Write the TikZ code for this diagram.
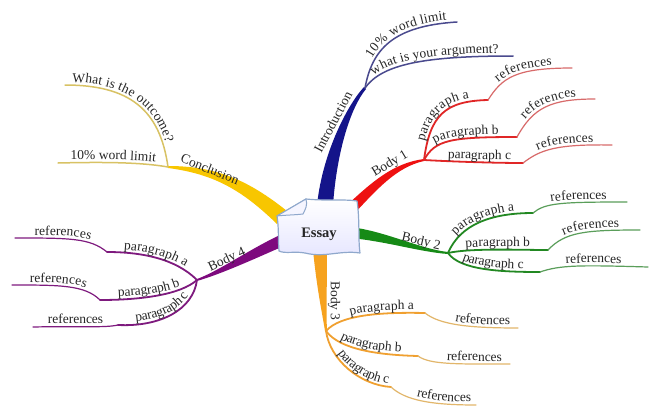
\documentclass[tikz,border=0pt]{standalone}
\usepackage{fontspec}
\setmainfont{Liberation Serif}
\usetikzlibrary{decorations.text}
\definecolor{cBlue}{HTML}{14148A}
\definecolor{cBlueS}{HTML}{4A4A8E}
\definecolor{cRed}{HTML}{EE1111}
\definecolor{cRedS}{HTML}{E02626}
\definecolor{cRedR}{HTML}{D86A6A}
\definecolor{cGreen}{HTML}{168A16}
\definecolor{cGreenS}{HTML}{228822}
\definecolor{cGreenR}{HTML}{5A9E5A}
\definecolor{cOrange}{HTML}{F6A21E}
\definecolor{cOrangeS}{HTML}{F0A030}
\definecolor{cOrangeR}{HTML}{E2B66A}
\definecolor{cPurple}{HTML}{7E0A7E}
\definecolor{cPurpleS}{HTML}{7E1A7E}
\definecolor{cYellow}{HTML}{F8C600}
\definecolor{cYellowS}{HTML}{D8C264}
\definecolor{cPaper}{HTML}{8FA8CC}
\newcommand\lblf{\fontsize{13.5}{15}\selectfont\color{black!85}}
\begin{document}
\begin{tikzpicture}[x=1pt,y=-1pt,
  lbl/.style={font=\fontsize{13.5}{15}\selectfont, text=black!85, inner sep=0pt},
  para/.style={line width=1.8pt, line cap=round},
  refl/.style={line width=1.2pt, line cap=round},
  txt/.style 2 args={postaction={decorate, decoration={text along path, text align={#2}, raise=3pt, text={|\lblf|#1}}}},
  tpath/.style 2 args={decorate, decoration={text along path, text align={#2}, raise=3pt, text={|\lblf|#1}}}]
\useasboundingbox (0,0) rectangle (651,407);
\fill[white] (0,0) rectangle (651,407);

% branch points
\coordinate (bI) at (365,88);
\coordinate (b1) at (424,160);
\coordinate (b2) at (448,253);
\coordinate (b3) at (326,331);
\coordinate (b4) at (197,280);
\coordinate (bC) at (168,167);

% ---- main tapered branches ----
\fill[cBlue] (317,205) .. controls (323,150) and (349,103) .. (364,87) -- (366,89) .. controls (351,107) and (337,150) .. (333,205) -- cycle;
\fill[cRed] (346,206) .. controls (372,182) and (393,163) .. (424,159) -- (424,161) .. controls (397,167) and (378,188) .. (353,215) -- cycle;
\fill[cGreen] (350,227) .. controls (385,231) and (420,249) .. (448,252) -- (448,254) .. controls (420,252) and (385,241) .. (350,238) -- cycle;
\fill[cOrange] (313,250) .. controls (317,290) and (322,312) .. (325,331) -- (327,331) .. controls (326,310) and (327,290) .. (327,250) -- cycle;
\fill[cPurple] (282,234) .. controls (248,250) and (219,271) .. (197,279) -- (197,281) .. controls (221,274) and (252,260) .. (286,245) -- cycle;
\fill[cYellow] (287,211) .. controls (248,180) and (216,166) .. (168,166) -- (168,168) .. controls (214,174) and (242,190) .. (277,224) -- cycle;

% ---- Introduction ----
\coordinate (iA) at (457,22);
\coordinate (iB) at (513,56);
\draw[cBlueS, line width=1.5pt, line cap=round, txt={10{\%} word limit}{right, right indent=10pt}] (bI) .. controls (372,50) and (392,26) .. (iA);
\draw[cBlueS, line width=1.5pt, line cap=round, txt={what is your argument?}{center}] (bI) .. controls (382,64) and (425,56) .. (iB);

% ---- Body 1 ----
\coordinate (r1a) at (488,100);
\coordinate (r1b) at (517,137);
\coordinate (r1c) at (523,163);
\coordinate (e1a) at (572,68);
\coordinate (e1b) at (595,99);
\coordinate (e1c) at (612,145);
\draw[cRedS, para, txt={paragraph a}{center}] (b1) .. controls (430,115) and (445,101) .. (r1a);
\draw[cRedS, para, txt={paragraph b}{center}] (b1) .. controls (435,140) and (450,137) .. (r1b);
\draw[cRedS, para, txt={paragraph c}{right, right indent=12pt}] (b1) .. controls (460,162) and (500,163) .. (r1c);
\draw[cRedR, refl, txt={references}{center}] (r1a) .. controls (502,78) and (515,68) .. (e1a);
\draw[cRedR, refl, txt={references}{center}] (r1b) .. controls (533,108) and (550,99) .. (e1b);
\draw[cRedR, refl, txt={references}{center}] (r1c) .. controls (540,150) and (555,144) .. (e1c);

% ---- Body 2 ----
\coordinate (r2a) at (533,213);
\coordinate (r2b) at (548,250);
\coordinate (r2c) at (540,272);
\coordinate (e2a) at (627,202);
\coordinate (e2b) at (640,230);
\coordinate (e2c) at (648,267);
\draw[cGreenS, para, txt={paragraph a}{center}] (b2) .. controls (460,225) and (490,213) .. (r2a);
\draw[cGreenS, para, txt={paragraph b}{center}] (b2) .. controls (470,248) and (520,250) .. (r2b);
\draw[cGreenS, para, txt={paragraph c}{center}] (b2) .. controls (460,270) and (500,272) .. (r2c);
\draw[cGreenR, refl, txt={references}{center}] (r2a) .. controls (545,203) and (560,202) .. (e2a);
\draw[cGreenR, refl, txt={references}{center}] (r2b) .. controls (565,232) and (585,230) .. (e2b);
\draw[cGreenR, refl, txt={references}{center}] (r2c) .. controls (560,265) and (580,265) .. (e2c);

% ---- Body 3 ----
\coordinate (r3a) at (425,313);
\coordinate (r3b) at (418,356);
\coordinate (r3c) at (391,387);
\coordinate (e3a) at (518,328);
\coordinate (e3b) at (510,364);
\coordinate (e3c) at (476,405);
\draw[cOrangeS, para, txt={paragraph a}{right, right indent=11pt}] (b3) .. controls (340,315) and (380,312) .. (r3a);
\draw[cOrangeS, para, txt={paragraph b}{center}] (b3) .. controls (340,350) and (380,355) .. (r3b);
\draw[cOrangeS, para, txt={paragraph c}{right, right indent=3pt}] (b3) .. controls (330,360) and (360,385) .. (r3c);
\draw[cOrangeR, refl, txt={references}{right, right indent=8pt}] (r3a) .. controls (440,325) and (470,328) .. (e3a);
\draw[cOrangeR, refl, txt={references}{right, right indent=8pt}] (r3b) .. controls (430,365) and (460,364) .. (e3b);
\draw[cOrangeR, refl, txt={references}{right, right indent=5pt}] (r3c) .. controls (405,400) and (430,405) .. (e3c);

% ---- Body 4 ----
\coordinate (r4a) at (107,252);
\coordinate (r4b) at (100,300);
\coordinate (r4c) at (118,325);
\coordinate (e4a) at (15,238);
\coordinate (e4b) at (12,285);
\coordinate (e4c) at (33,327);
\draw[cPurpleS, para] (b4) .. controls (175,258) and (140,252) .. (r4a);
\draw[cPurpleS, para] (b4) .. controls (180,295) and (140,300) .. (r4b);
\draw[cPurpleS, para] (b4) .. controls (193,310) and (160,327) .. (r4c);
\draw[cPurpleS, refl] (r4a) .. controls (90,238) and (70,238) .. (e4a);
\draw[cPurpleS, refl] (r4b) .. controls (85,285) and (60,285) .. (e4b);
\draw[cPurpleS, refl] (r4c) .. controls (105,328) and (80,326) .. (e4c);
\path[tpath={paragraph a}{center}] (r4a) .. controls (140,252) and (175,258) .. (b4);
\path[tpath={paragraph b}{center}] (r4b) .. controls (140,300) and (180,295) .. (b4);
\path[tpath={paragraph c}{center}] (r4c) .. controls (160,327) and (193,310) .. (b4);
\path[tpath={references}{center}] (e4a) .. controls (70,238) and (90,238) .. (r4a);
\path[tpath={references}{center}] (e4b) .. controls (60,285) and (85,285) .. (r4b);
\path[tpath={references}{center}] (e4c) .. controls (80,326) and (105,328) .. (r4c);

% ---- Conclusion ----
\coordinate (cA) at (58,163);
\coordinate (cB) at (65,85);
\draw[cYellowS, line width=1.5pt, line cap=round] (bC) .. controls (140,162) and (100,162) .. (cA);
\draw[cYellowS, line width=1.5pt, line cap=round] (bC) .. controls (160,110) and (130,85) .. (cB);
\path[tpath={10{\%} word limit}{center}] (cA) .. controls (100,162) and (140,162) .. (bC);
\path[tpath={What is the outcome?}{left, left indent=7pt}] (cB) .. controls (130,85) and (160,110) .. (bC);

% ---- Essay paper ----
\path[draw=cPaper, line width=1.2pt, top color=white, bottom color=blue!10, line join=round]
  (277,216) -- (306,199) .. controls (325,201) and (345,199) .. (357,201)
  .. controls (360,220) and (358,240) .. (360,253)
  .. controls (340,250) and (325,258) .. (305,253)
  .. controls (295,251) and (285,254) .. (279,251)
  .. controls (278,240) and (279,228) .. (277,216) -- cycle;
\path[draw=cPaper, line width=1.0pt, fill=blue!4, line join=round]
  (306,199) .. controls (308,205) and (305,210) .. (303,214)
  .. controls (295,215) and (285,215) .. (277,216) -- cycle;
\node[font=\fontsize{14.5}{16}\selectfont\bfseries, text=black!85] (essay) at (319,234) {Essay};

% ---- main branch labels ----
\node[lbl, rotate=62] (tIntro) at (333,122) {Introduction};
\node[lbl, rotate=31] (t1) at (390,164) {Body 1};
\node[lbl, rotate=-13] (t2) at (421,242) {Body 2};
\node[lbl, rotate=-90] (t3) at (334,301) {Body 3};
\node[lbl, rotate=25] (t4) at (227,260) {Body 4};
\node[lbl, rotate=-22] (tC) at (210,169) {Conclusion};
\end{tikzpicture}
\end{document}
